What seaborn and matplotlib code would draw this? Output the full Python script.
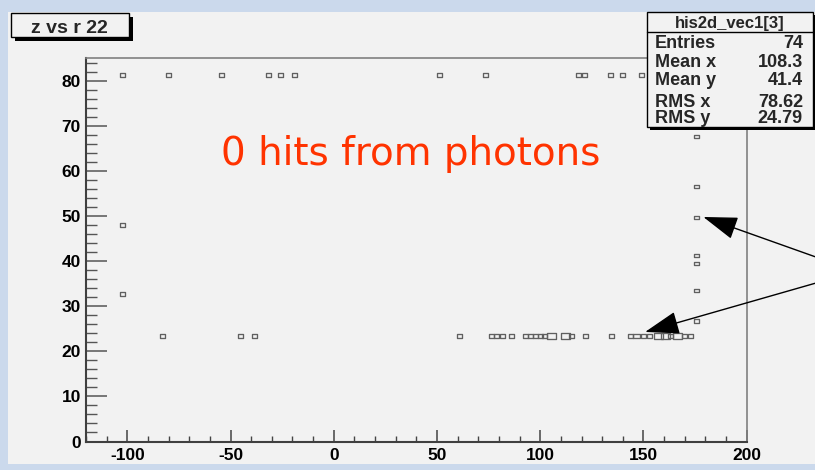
import numpy as np
import pandas as pd
import matplotlib
matplotlib.use("Agg")
import matplotlib.pyplot as plt
import seaborn as sns
from matplotlib.patches import Rectangle
from matplotlib.path import Path
from matplotlib.ticker import MultipleLocator

# ---------------- data ----------------
top_row_r = [-102.4, -79.9, -54.4, -31.8, -25.7, -19.2, 51.1, 73.4,
             118.5, 121.3, 134.2, 140.0, 149.2]
top_row_z = 81.3

bottom_row_r = [-82.9, -45.2, -38.4, 60.8, 76.6, 78.7, 81.9, 86.3, 92.7,
                95.1, 97.6, 100.0, 101.9, 105.6, 112.1, 115.3, 121.8, 134.3,
                143.9, 146.8, 150.0, 152.9, 157.2, 160.5, 163.2, 166.4,
                170.1, 172.9]
bottom_row_w = [1, 1, 1, 1, 1, 1, 1, 1, 1,
                1, 1, 1, 1, 3, 3, 1, 1, 1,
                1, 2, 1, 1, 3, 3, 1, 3,
                1, 1]
bottom_row_z = 23.4

right_col_r = 175.8
right_col_z = [67.6, 56.5, 49.7, 41.2, 39.5, 33.5, 26.7]

left_col_r = -102.4
left_col_z = [48.0, 32.7]

hist_title = "z vs r 22"
stats_name = "his2d_vec1[3]"
stats_labels = ["Entries", "Mean x", "Mean y", "RMS x", "RMS y"]
stats_values = ["74", "108.3", "41.4", "78.62", "24.79"]
note_text = "0 hits from photons"

x_ticks = [-100, -50, 0, 50, 100, 150, 200]
y_ticks = [0, 10, 20, 30, 40, 50, 60, 70, 80]

# ---------------- table ----------------
r_vals = (top_row_r + bottom_row_r + [right_col_r] * len(right_col_z)
          + [left_col_r] * len(left_col_z))
z_vals = ([top_row_z] * len(top_row_r) + [bottom_row_z] * len(bottom_row_r)
          + right_col_z + left_col_z)
w_vals = ([1] * len(top_row_r) + bottom_row_w + [1] * len(right_col_z)
          + [1] * len(left_col_z))
df = pd.DataFrame({"r": r_vals, "z": z_vals, "w": w_vals})

# ---------------- figure ----------------
sns.set_theme(style="white")
plt.rcParams["font.family"] = ["Liberation Sans", "DejaVu Sans"]

W, H = 815, 470
fig = plt.figure(figsize=(W / 100, H / 100), dpi=100, facecolor="#cbd9ec")


def fx(px):
    return px / W


def fy(py):
    return 1 - py / H


# pad background
fig.add_artist(Rectangle((fx(8), fy(464)), fx(815) - fx(8), fy(12) - fy(464),
                         transform=fig.transFigure, facecolor="#f2f2f2",
                         edgecolor="none", zorder=-5))

ax = fig.add_axes([fx(86), fy(441.5), fx(746.7) - fx(86), fy(58.3) - fy(441.5)])
ax.set_facecolor("#f2f2f2")

box_marker = Path([(-1, -0.68), (1, -0.68), (1, 0.68), (-1, 0.68), (-1, -0.68)],
                  closed=True)
sns.scatterplot(data=df, x="r", y="z", size="w", sizes=(13, 40),
                marker=box_marker, facecolor="none", edgecolor="#606060",
                linewidth=0.95, legend=False, ax=ax, zorder=3)

ax.set_xlim(-120, 200)
ax.set_ylim(0, 85)
ax.set_xticks(x_ticks)
ax.set_yticks(y_ticks)
ax.set_xticklabels([str(v) for v in x_ticks])
ax.set_yticklabels([str(v) for v in y_ticks])
ax.xaxis.set_minor_locator(MultipleLocator(10))
ax.yaxis.set_minor_locator(MultipleLocator(2))
ax.set_xlabel("")
ax.set_ylabel("")

ax.tick_params(axis="x", which="major", direction="in", length=8.6, width=1.1,
               color="#444444", pad=4.5, labelsize=12.5, bottom=True, top=False)
ax.tick_params(axis="x", which="minor", direction="in", length=4.3, width=1.0,
               color="#444444", bottom=True, top=False)
ax.tick_params(axis="y", which="major", direction="in", length=15, width=1.1,
               color="#555555", pad=3.6, labelsize=12.5, left=True, right=False)
ax.tick_params(axis="y", which="minor", direction="in", length=7.7, width=1.0,
               color="#555555", left=True, right=False)
for lab in ax.get_xticklabels() + ax.get_yticklabels():
    lab.set_fontweight("bold")
    lab.set_color("black")

for side in ["left", "bottom"]:
    ax.spines[side].set_color("#404040")
    ax.spines[side].set_linewidth(1.5)
for side in ["top", "right"]:
    ax.spines[side].set_color("#808080")
    ax.spines[side].set_linewidth(1.2)
for s in ax.spines.values():
    s.set_visible(True)

# red annotation text
fig.text(fx(410.4), fy(165), note_text, color="#ff3300", fontsize=28,
         family="DejaVu Sans", ha="center", va="baseline")

# arrows
ax.annotate("", xy=(179.0, 49.8), xycoords="data",
            xytext=(fx(815), fy(256.7)), textcoords="figure fraction",
            arrowprops=dict(arrowstyle="-|>,head_length=1.8,head_width=0.6",
                            color="black", lw=1.0, shrinkA=0, shrinkB=0),
            annotation_clip=False, zorder=6)
ax.annotate("", xy=(150.8, 24.3), xycoords="data",
            xytext=(fx(815), fy(283.3)), textcoords="figure fraction",
            arrowprops=dict(arrowstyle="-|>,head_length=1.8,head_width=0.6",
                            color="black", lw=1.0, shrinkA=0, shrinkB=0),
            annotation_clip=False, zorder=6)


def fig_box(x0, y0, x1, y1, shadow=3.5, z=10):
    fig.add_artist(Rectangle((fx(x0 + shadow), fy(y1 + shadow)),
                             fx(x1) - fx(x0), fy(y0) - fy(y1),
                             transform=fig.transFigure, facecolor="black",
                             edgecolor="none", zorder=z))
    fig.add_artist(Rectangle((fx(x0), fy(y1)), fx(x1) - fx(x0), fy(y0) - fy(y1),
                             transform=fig.transFigure, facecolor="#f2f2f2",
                             edgecolor="black", lw=1.0, zorder=z + 1))


# title box
fig_box(11, 13, 129, 37, shadow=3.5)
fig.text(fx(69.5), fy(33.3), hist_title, fontsize=14, fontweight="bold",
         ha="center", va="baseline", zorder=13)

# stats box
fig_box(647, 12, 813, 127, shadow=3)
fig.add_artist(plt.Line2D([fx(647), fx(813)], [fy(32), fy(32)],
                          transform=fig.transFigure, color="black", lw=1.0,
                          zorder=13))
fig.text(fx(730), fy(28.3), stats_name, fontsize=12, fontweight="bold",
         ha="center", va="baseline", zorder=13)
row_baselines = [48.3, 66.7, 84.5, 106.7, 123.3]
for lab, val, yb in zip(stats_labels, stats_values, row_baselines):
    fig.text(fx(655), fy(yb), lab, fontsize=13, fontweight="bold",
             ha="left", va="baseline", zorder=13)
    fig.text(fx(803), fy(yb), val, fontsize=13, fontweight="bold",
             ha="right", va="baseline", zorder=13)

fig.savefig("out.png", dpi=100, facecolor=fig.get_facecolor())
